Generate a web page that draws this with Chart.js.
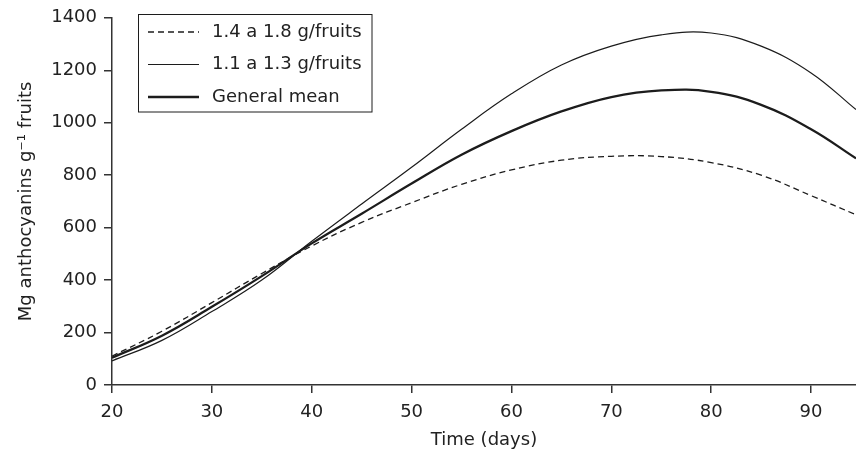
<!DOCTYPE html>
<html>
<head>
<meta charset="utf-8">
<title>Anthocyanins over time</title>
<script src="https://cdn.jsdelivr.net/npm/chart.js@4"></script>
<style>
  html, body { margin: 0; padding: 0; background: #fff; }
  #wrap { width: 856px; height: 457px; }
</style>
</head>
<body>
<div id="wrap"><canvas id="chart" width="856" height="457"></canvas></div>
<script>
// ================== Data ==================
const days = [20, 25, 30, 35, 40, 45, 50, 55, 60, 65, 70, 75, 80, 85, 90, 94.5];
const fruits14to18 = [110, 205, 314, 425, 530, 620, 695, 765, 820, 857, 872, 871, 848, 800, 722, 649];
const fruits11to13 = [92, 170, 280, 400, 548, 690, 830, 975, 1110, 1220, 1292, 1335, 1342, 1292, 1190, 1050];
const generalMean  = [104, 188, 298, 415, 540, 653, 768, 878, 968, 1043, 1098, 1123, 1118, 1068, 975, 864];

const seriesNames = ['1.4 a 1.8 g/fruits', '1.1 a 1.3 g/fruits', 'General mean'];
const xTitle = 'Time (days)';
const yTitle = 'Mg anthocyanins g\u207B\u00B9 fruits';

const INK = '#1c1c1c';
const FONT = "'DejaVu Sans', sans-serif";

const pts = ys => days.map((d, i) => ({ x: d, y: ys[i] }));

// ================== Legend box (inside plot, top-left) ==================
const boxLegend = {
  id: 'boxLegend',
  afterDraw(chart){
    const ctx = chart.ctx;
    const x0 = 138.5, y0 = 14.5, w = 233.5, h = 97.5;
    const rows = [32, 64.5, 97];
    ctx.save();
    ctx.strokeStyle = INK;
    ctx.lineWidth = 1;
    ctx.strokeRect(x0, y0, w, h);
    ctx.font = '18px ' + FONT;
    ctx.textBaseline = 'middle';
    ctx.textAlign = 'left';
    chart.data.datasets.forEach((ds, i) => {
      ctx.beginPath();
      ctx.setLineDash(ds.borderDash || []);
      ctx.lineWidth = ds.borderWidth;
      ctx.strokeStyle = ds.borderColor;
      ctx.moveTo(148, rows[i]);
      ctx.lineTo(199, rows[i]);
      ctx.stroke();
      ctx.setLineDash([]);
      ctx.fillStyle = '#222';
      ctx.fillText(ds.label, 212, rows[i]);
    });
    ctx.restore();
  }
};

// ================== Chart ==================
new Chart(document.getElementById('chart'), {
  type: 'line',
  data: {
    datasets: [
      { label: seriesNames[0], data: pts(fruits14to18), borderColor: INK, borderWidth: 1.3, borderDash: [6, 4] },
      { label: seriesNames[1], data: pts(fruits11to13), borderColor: INK, borderWidth: 1.2 },
      { label: seriesNames[2], data: pts(generalMean),  borderColor: INK, borderWidth: 2.3 },
    ]
  },
  options: {
    responsive: false,
    animation: false,
    devicePixelRatio: 1,
    elements: { point: { radius: 0 }, line: { fill: false, tension: 0.4 } },
    layout: { padding: { top: 14, right: 0, left: 0, bottom: 0 } },
    plugins: { legend: { display: false }, tooltip: { enabled: false } },
    scales: {
      x: {
        type: 'linear',
        min: 20, max: 94.5,
        afterFit: s => { s.height = 72; },
        border: { display: true, color: '#333', width: 1.5 },
        grid: { display: true, drawOnChartArea: false, drawTicks: true, tickLength: 8, color: '#333', lineWidth: 1.5 },
        ticks: { stepSize: 10, includeBounds: false, padding: 9, color: '#222', font: { family: FONT, size: 18 },
                 callback: v => String(v) },
        title: { display: true, text: xTitle, color: '#222', font: { family: FONT, size: 18 }, padding: { top: 0, bottom: 6 } }
      },
      y: {
        min: 0, max: 1400,
        afterFit: s => { s.width = 112; },
        border: { display: true, color: '#333', width: 1.5 },
        grid: { display: true, drawOnChartArea: false, drawTicks: true, tickLength: 8, color: '#333', lineWidth: 1.5 },
        ticks: { stepSize: 200, padding: 7, color: '#222', font: { family: FONT, size: 18 },
                 callback: v => String(v) },
        title: { display: true, text: yTitle, color: '#222', font: { family: FONT, size: 18 }, padding: { top: 16, bottom: 0 } }
      }
    }
  },
  plugins: [boxLegend]
});
</script>
</body>
</html>
